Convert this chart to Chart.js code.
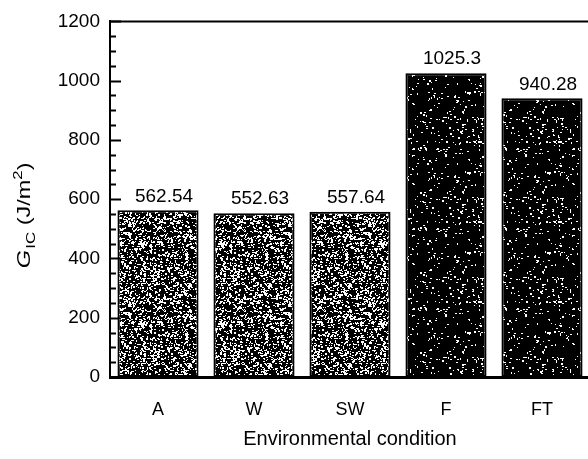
<!DOCTYPE html>
<html>
<head>
<meta charset="utf-8">
<script src="https://cdn.jsdelivr.net/npm/chart.js@4.4.1/dist/chart.umd.min.js"></script>
<style>
  html, body { margin: 0; padding: 0; background: #fff; overflow: hidden; }
  #wrap { width: 590px; height: 459px; position: relative; }
</style>
</head>
<body>
<div id="wrap"><canvas id="chart"></canvas></div>
<script>
const categories = ['A', 'W', 'SW', 'F', 'FT'];
const gicValues = [562.54, 552.63, 557.64, 1025.3, 940.28];
const valueLabels = ['562.54', '552.63', '557.64', '1025.3', '940.28'];
const yTicks = [0, 200, 400, 600, 800, 1000, 1200];

const FONT = '"Liberation Sans", Arial, Helvetica, sans-serif';

// speckled fill like the scanned halftone (deterministic noise, texture only)
function speckle(density, seed) {
    const c = document.createElement('canvas');
    c.width = 80; c.height = 80;
    const g = c.getContext('2d');
    g.fillStyle = '#000';
    g.fillRect(0, 0, 80, 80);
    let s = seed;
    const rnd = () => { s = (s * 1103515245 + 12345) & 0x7fffffff; return s / 0x7fffffff; };
    g.fillStyle = '#fff';
    for (let y = 0; y < 80; y++) {
        for (let x = 0; x < 80; x++) {
            if (rnd() < density) g.fillRect(x, y, rnd() < 0.5 ? 2 : 1, rnd() < 0.3 ? 2 : 1);
        }
    }
    return g.createPattern(c, 'repeat');
}
const lightFill = speckle(0.17, 7);
const darkFill = speckle(0.035, 13);
const barFills = [lightFill, lightFill, lightFill, darkFill, darkFill];

const framePlugin = {
    id: 'frame',
    afterDraw(chart) {
        const { ctx, chartArea } = chart;
        const y = chart.scales.y;
        ctx.save();
        ctx.strokeStyle = '#000';
        // top border
        ctx.lineWidth = 2;
        ctx.beginPath();
        ctx.moveTo(chartArea.left - 1, chartArea.top);
        ctx.lineTo(chartArea.right, chartArea.top);
        ctx.stroke();
        // inward ticks on the y axis
        for (let v = 0; v <= 1200; v += 50) {
            const py = Math.round(y.getPixelForValue(v)) + 0.5;
            const len = v % 200 === 0 ? 11 : 6;
            ctx.beginPath();
            ctx.moveTo(chartArea.left, py);
            ctx.lineTo(chartArea.left + len, py);
            ctx.stroke();
        }
        // value labels above bars
        ctx.fillStyle = '#000';
        ctx.font = '19px ' + FONT;
        ctx.textAlign = 'center';
        ctx.textBaseline = 'middle';
        chart.getDatasetMeta(0).data.forEach((bar, i) => {
            ctx.fillText(valueLabels[i], bar.x + 6, bar.y - 14);
        });
        // y axis title with sub/superscripts
        ctx.translate(24, 216);
        ctx.rotate(-Math.PI / 2);
        ctx.scale(1.3, 1);
        ctx.textAlign = 'left';
        ctx.textBaseline = 'alphabetic';
        const parts = [
            { t: 'G', f: 'italic 18px ' + FONT, dy: 0 },
            { t: 'IC', f: '13px ' + FONT, dy: 5 },
            { t: ' (J/m', f: '18px ' + FONT, dy: 0 },
            { t: '2', f: '13px ' + FONT, dy: -8 },
            { t: ')', f: '18px ' + FONT, dy: 0 }
        ];
        let total = 0;
        parts.forEach(p => { ctx.font = p.f; p.w = ctx.measureText(p.t).width; total += p.w; });
        let x = -total / 2;
        parts.forEach(p => {
            ctx.font = p.f;
            ctx.fillText(p.t, x, 6 + p.dy);
            x += p.w + (p.t === 'G' ? 1 : 0);
        });
        ctx.restore();
    }
};

new Chart(document.getElementById('chart'), {
    type: 'bar',
    data: {
        labels: categories,
        datasets: [{
            data: gicValues,
            backgroundColor: barFills,
            borderColor: '#000',
            borderWidth: 2,
            borderSkipped: false,
            barPercentage: 0.845,
            categoryPercentage: 1
        }]
    },
    options: {
        responsive: true,
        maintainAspectRatio: false,
        animation: false,
        layout: { padding: { top: 20, right: 0, bottom: 0, left: 0 } },
        plugins: { legend: { display: false }, tooltip: { enabled: false } },
        scales: {
            x: {
                grid: { display: false },
                border: { display: true, color: '#000', width: 3 },
                ticks: { color: '#000', padding: 14, font: { family: FONT, size: 18 } },
                title: {
                    display: true,
                    text: 'Environmental condition',
                    color: '#000',
                    font: { family: FONT, size: 20 },
                    padding: { top: 0, bottom: 8 }
                },
                afterFit: (scale) => { scale.height = 82; }
            },
            y: {
                min: 0,
                max: 1200,
                afterBuildTicks: (scale) => { scale.ticks = yTicks.map(v => ({ value: v })); },
                grid: { display: false, drawTicks: false },
                border: { display: true, color: '#000', width: 2 },
                ticks: {
                    color: '#000',
                    padding: 10,
                    font: { family: FONT, size: 19 },
                    callback: (v) => String(v)
                },
                afterFit: (scale) => { scale.width = 110; }
            }
        }
    },
    plugins: [framePlugin]
});
</script>
</body>
</html>
